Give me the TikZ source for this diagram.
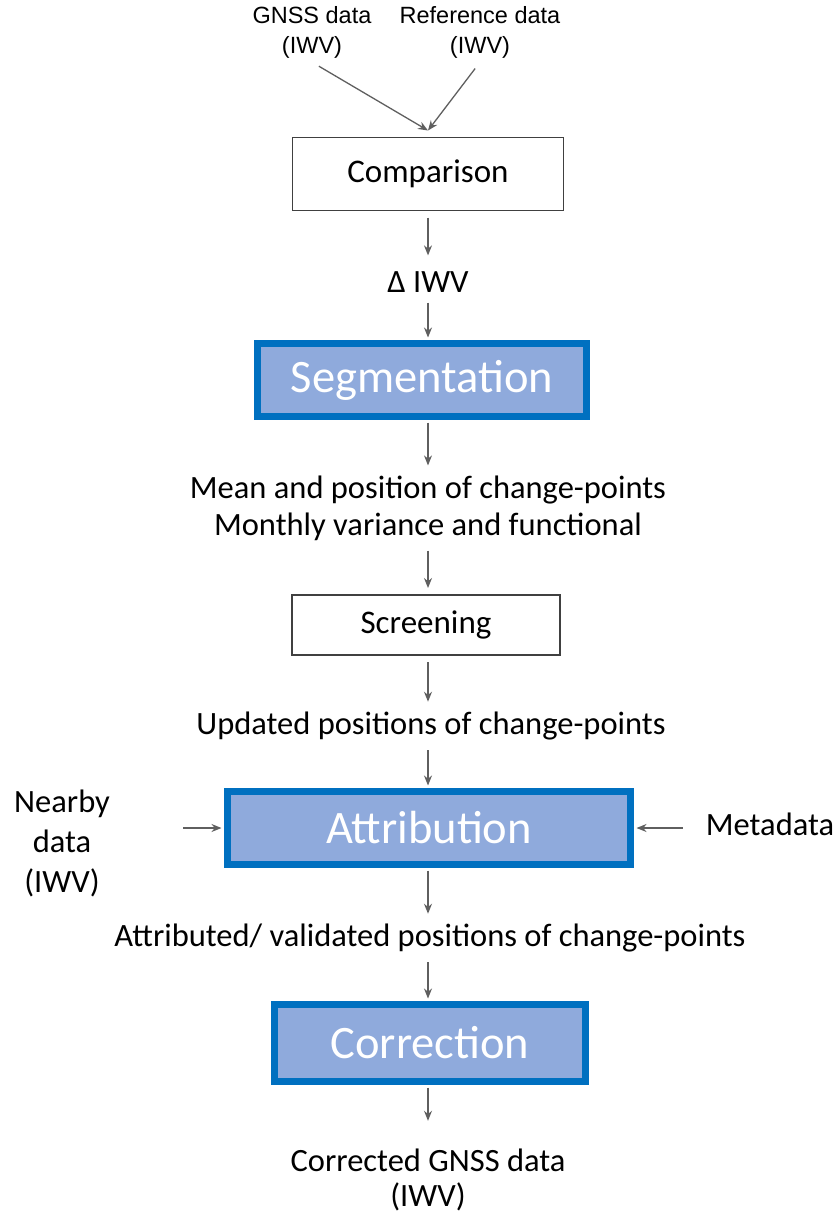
\documentclass[tikz,border=0pt]{standalone}
\usepackage{fontspec}
\setmainfont{Carlito}
\newfontfamily\arialfont{Liberation Sans}
\usetikzlibrary{arrows.meta}
\definecolor{arrow_gray}{RGB}{95,95,95}
\definecolor{box_blue}{RGB}{0,112,192}
\definecolor{fill_blue}{RGB}{143,170,220}

\begin{document}
\begin{tikzpicture}[->,>={Stealth[length=10pt,width=8pt]},x=1pt,y=-1pt]
    \tikzstyle{plain}=[draw=black!75, rectangle, line width=1.3pt, fill=none, text=black, outer sep=7pt, font=\fontsize{33}{38}\selectfont]
    \tikzstyle{main}=[draw=box_blue, fill=fill_blue, rectangle, line width=7pt, text=white, outer sep=6pt, font=\fontsize{46.5}{50}\selectfont]
    \tikzstyle{label}=[align=center, text=black, inner xsep=3pt, inner ysep=10pt, font=\fontsize{32.5}{37}\selectfont]
    \tikzstyle{toplabel}=[align=center, text=black, inner sep=4pt, font=\arialfont\fontsize{23.5}{30}\selectfont]
    \tikzstyle{flow}=[draw=arrow_gray, line width=1.3pt]

    \useasboundingbox (0,0) rectangle (839,1216);

    \node[toplabel] (gnss) at (312,32)  {GNSS data\\(IWV)};
    \node[toplabel] (ref)  at (480,32)  {Reference data\\(IWV)};
    \node[plain, minimum width=271pt, minimum height=73pt] (comp) at (428,174) {Comparison};
    \node[label] (diwv) at (428,282) {Δ IWV};
    \node[main, minimum width=329pt, minimum height=73pt] (seg) at (422,380) {Segmentation};
    \node[label] (mean) at (428,508) {Mean and position of change-points\\Monthly variance and functional};
    \node[plain, minimum width=268pt, minimum height=60pt] (scr) at (426,625) {Screening};
    \node[label] (upd)  at (431,726) {Updated positions of change-points};
    \node[main, minimum width=403pt, minimum height=73pt] (attr) at (429,828) {Attribution};
    \node[label, font=\fontsize{32.5}{40}\selectfont] (near) at (62,843) {Nearby\\data\\(IWV)};
    \node[label] (meta) at (770,824) {Metadata};
    \node[label] (attd) at (430,938) {Attributed/ validated positions of change-points};
    \node[main, minimum width=311pt, minimum height=77pt] (corr) at (430,1043) {Correction};
    \node[label, font=\fontsize{32.5}{35}\selectfont] (out) at (428,1180) {Corrected GNSS data\\(IWV)};

    \path
     (gnss.south) edge[flow, shorten <=8pt] (comp.north)
     (ref.south)  edge[flow, shorten <=8pt] (comp.north)
     (comp) edge[flow, shorten >=6pt] (diwv)
     (diwv) edge[flow] (seg.north -| diwv)
     (seg.south -| diwv) edge[flow] (mean)
     (mean) edge[flow] (scr.north -| diwv)
     (scr.south -| diwv) edge[flow] (upd.north -| diwv)
     (upd.south -| diwv) edge[flow] (attr.north -| diwv)
     (near.east |- attr.west) edge[flow, shorten <=70pt] (attr.west)
     (meta.west |- attr.east) edge[flow, shorten <=20pt] (attr.east)
     (attr.south -| diwv) edge[flow] (attd.north -| diwv)
     (attd.south -| diwv) edge[flow] (corr.north -| diwv)
     (corr.south -| diwv) edge[flow, shorten >=18pt] (out)
     ;
\end{tikzpicture}
\end{document}
